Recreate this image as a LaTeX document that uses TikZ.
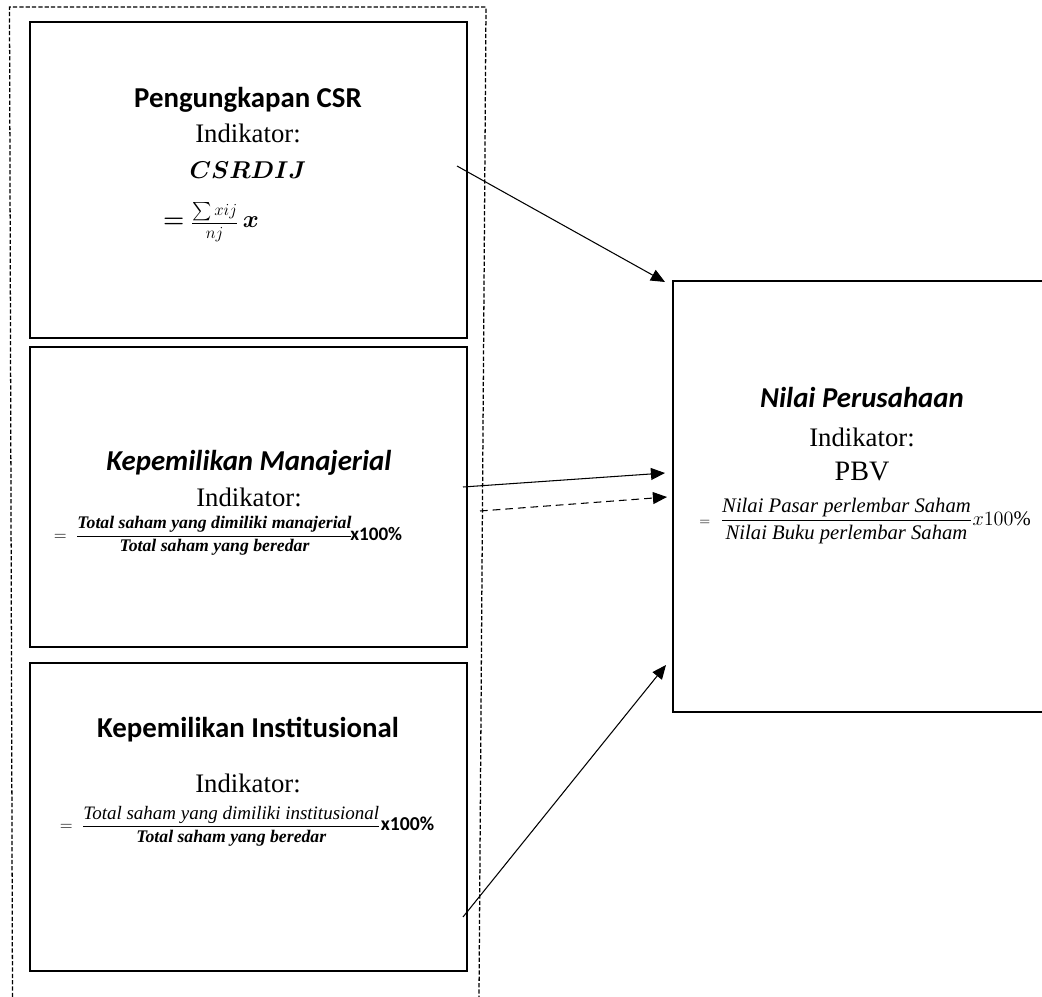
\documentclass[tikz,border=0pt]{standalone}
\usepackage{amsmath,amssymb,bm}
\usepackage{fontspec}
\setmainfont{Liberation Serif}
\newfontfamily\calibri{Carlito}
\usetikzlibrary{arrows.meta}

\tikzset{
  box/.style={draw, line width=1pt, inner sep=0pt},
  ttl/.style={font=\calibri\bfseries\fontsize{20.5}{24}\selectfont, inner sep=0pt},
  ittl/.style={font=\calibri\bfseries\itshape\fontsize{20.5}{24}\selectfont, inner sep=0pt},
  ind/.style={font=\fontsize{19}{22}\selectfont, inner sep=0pt},
  link/.style={line width=0.75pt, -{Triangle[length=10pt,width=8.5pt]}},
}

\begin{document}
\begin{tikzpicture}[x=0.025cm, y=-0.025cm]
      \path[use as bounding box, clip] (0,0) rectangle (1042,997);

      % frame
      \coordinate      (f1) at (12.5,997);
      \coordinate      (f2) at (9.5,7);
      \coordinate      (f3) at (486,7);
      \coordinate      (f4) at (479,997);
      \draw[line width=0.9pt, dash pattern=on 3pt off 1.5pt] (f1) -- (f2) -- (f3) -- (f4);

      % Pengungkapan CSR
      \node[box, minimum width=10.925cm, minimum height=7.9cm] (csr) at (248.5,180) {};
      \node[ttl]       (csrt) at (248,100) {Pengungkapan CSR};
      \node[ind]       (csri) at (248,133) {Indikator:};
      \node[inner sep=0pt, font=\fontsize{18}{20}\selectfont] (csrd) at (248,170) {$\bm{CSRDIJ}$};
      \node[inner sep=0pt, font=\fontsize{17}{20}\selectfont] (csrf) at (211,222)
        {$\bm{=}$\ {\fontsize{13}{16}\selectfont$\dfrac{\textstyle\sum xij}{nj}$}\,$\bm{x}$};

      % Kepemilikan Manajerial
      \node[box, minimum width=10.925cm, minimum height=7.5cm] (man) at (248.5,497) {};
      \node[ittl]      (mant) at (249,463) {Kepemilikan Manajerial};
      \node[ind]       (mani) at (249,497) {Indikator:};
      \node[inner sep=0pt, font=\fontsize{12.6}{15}\selectfont] (manf) at (228,536)
        {$=\ \dfrac{\text{\bfseries\itshape Total saham yang dimiliki manajerial}}{\text{\bfseries\itshape Total saham yang beredar}}$\hspace{-2pt}{\calibri\bfseries\fontsize{13.6}{16}\selectfont x100\%}};

      % Kepemilikan Institusional
      \node[box, minimum width=10.925cm, minimum height=7.7cm] (ins) at (248.5,817) {};
      \node[ttl]       (inst) at (248,730) {Kepemilikan Institusional};
      \node[ind]       (insi) at (248,783) {Indikator:};
      \node[inner sep=0pt, font=\fontsize{12.6}{15}\selectfont] (insf) at (247,826)
        {$=\ \dfrac{\text{\itshape\fontsize{13.5}{16}\selectfont Total saham yang dimiliki institusional}}{\text{\bfseries\itshape Total saham yang beredar}}${\calibri\bfseries\fontsize{14}{16}\selectfont x100\%}};

      % Nilai Perusahaan
      \node[box, minimum width=10.5cm, minimum height=10.775cm] (nil) at (883,496.5) {};
      \node[ittl]      (nilt) at (862,397) {Nilai Perusahaan};
      \node[ind]       (nili) at (862,437) {Indikator:};
      \node[ind, font=\fontsize{20}{24}\selectfont] (nilp) at (862,472) {PBV};
      \node[inner sep=0pt, font=\fontsize{14.7}{17}\selectfont] (nilf) at (865,521)
        {{\fontsize{10}{12}\selectfont$=$}\ \ $\dfrac{\text{\itshape Nilai Pasar perlembar Saham}}{\text{\itshape Nilai Buku perlembar Saham}}x100\%$};

      % arrows
      \coordinate      (a1s) at (457,166);
      \coordinate      (a1e) at (665,282);
      \coordinate      (a2s) at (463,487);
      \coordinate      (a2e) at (665,473);
      \coordinate      (a3s) at (480,511);
      \coordinate      (a3e) at (667,497);
      \coordinate      (a4s) at (463,917);
      \coordinate      (a4e) at (666,665);
      \draw[link]      (a1s) -- (a1e);
      \draw[link]      (a2s) -- (a2e);
      \draw[link, dash pattern=on 5.5pt off 3.5pt] (a3s) -- (a3e);
      \draw[link]      (a4s) -- (a4e);
\end{tikzpicture}
\end{document}
